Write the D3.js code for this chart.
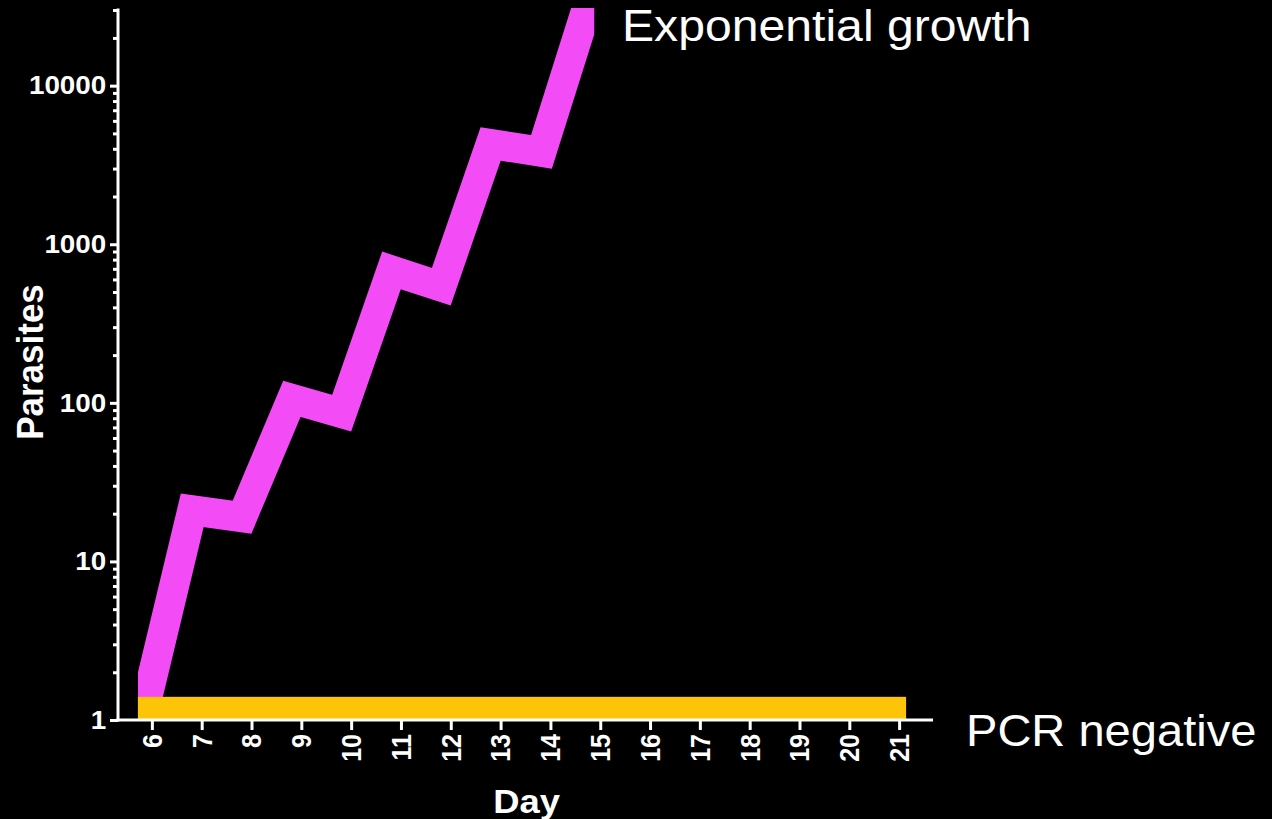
<!DOCTYPE html>
<html>
<head>
<meta charset="utf-8">
<script src="https://cdn.jsdelivr.net/npm/d3@7"></script>
<style>
  html, body { margin: 0; padding: 0; background: #000; }
  svg { display: block; }
  text { font-family: "Liberation Sans", Arial, sans-serif; fill: #fff; }
</style>
</head>
<body>
<svg id="chart" width="1272" height="819"></svg>
<script>
// ---- data ----
const growthDays   = [5.8, 6.81, 7.81, 8.81, 9.81, 10.81, 11.81, 12.8, 13.82, 14.81];
const growthValues = [1, 21, 19, 106, 86, 684, 540, 4290, 3820, 37000];
const growthShownDays = [5.72, 14.88];     // portion of the growth curve revealed
const pcrDays   = [5.72, 21.14];           // PCR negative band (days)
const pcrValues = [1, 1.4];                // PCR negative band (parasites)
const dayTicks  = [6, 7, 8, 9, 10, 11, 12, 13, 14, 15, 16, 17, 18, 19, 20, 21];
const yMajorTicks = [1, 10, 100, 1000, 10000];
const yMinorTicks = [2,3,4,5,6,7,8,9,20,30,40,50,60,70,80,90,200,300,400,500,600,700,800,900,
                     2000,3000,4000,5000,6000,7000,8000,9000,20000,30000];
const labels = { growth: "Exponential growth", pcr: "PCR negative", x: "Day", y: "Parasites" };

// ---- layout ----
const svg = d3.select("#chart");
const x = d3.scaleLinear().domain([5.32, 21.68]).range([118, 933]);
const y = d3.scaleLog().domain([1, 30000]).range([720, 10]);
const wide = 1.07;   // horizontal text stretch seen in the reference

const magenta = "rgb(243,76,246)";
const yellow  = "rgb(254,196,8)";

// clip for growth curve
svg.append("defs").append("clipPath").attr("id", "growthClip")
  .append("rect")
  .attr("x", x(growthShownDays[0]))
  .attr("y", y.range()[1] - 2)
  .attr("width", x(growthShownDays[1]) - x(growthShownDays[0]))
  .attr("height", y.range()[0] - y.range()[1] + 2);

const pts = growthDays.map((d, i) => [d, growthValues[i]]);
svg.append("path")
  .datum(pts)
  .attr("clip-path", "url(#growthClip)")
  .attr("fill", "none")
  .attr("stroke", magenta)
  .attr("stroke-width", 30)
  .attr("stroke-linejoin", "miter")
  .attr("stroke-miterlimit", 10)
  .attr("d", d3.line().x(d => x(d[0])).y(d => y(d[1])));

// PCR negative band
svg.append("rect")
  .attr("x", x(pcrDays[0]))
  .attr("y", y(pcrValues[1]))
  .attr("width", x(pcrDays[1]) - x(pcrDays[0]))
  .attr("height", y(pcrValues[0]) - y(pcrValues[1]))
  .attr("fill", yellow);

// ---- axes ----
const axisColor = "#fff";
const yAxisX = x.range()[0];
const xAxisY = y.range()[0];

// y axis major
const yAxis = svg.append("g").attr("transform", `translate(${yAxisX},0)`)
  .call(d3.axisLeft(y).tickValues(yMajorTicks).tickFormat(d3.format("d"))
        .tickSizeInner(8).tickSizeOuter(0).tickPadding(3));
yAxis.select(".domain").remove();
yAxis.selectAll(".tick line").attr("stroke", axisColor).attr("stroke-width", 3);
yAxis.selectAll(".tick text")
  .style("font-family", "'Liberation Sans', Arial, sans-serif")
  .style("font-weight", "bold").style("font-size", "26px").attr("fill", "#fff")
  .attr("transform", `scale(${wide},1)`);

// y axis minor
const yMinor = svg.append("g").attr("transform", `translate(${yAxisX},0)`)
  .call(d3.axisLeft(y).tickValues(yMinorTicks).tickFormat("").tickSizeInner(5).tickSizeOuter(0));
yMinor.select(".domain").remove();
yMinor.selectAll(".tick line").attr("stroke", axisColor).attr("stroke-width", 3);

// y axis line
svg.append("line")
  .attr("x1", yAxisX).attr("x2", yAxisX)
  .attr("y1", y.range()[1] - 1.5).attr("y2", xAxisY + 1.5)
  .attr("stroke", axisColor).attr("stroke-width", 3);

// x axis
const xAxis = svg.append("g").attr("transform", `translate(0,${xAxisY})`)
  .call(d3.axisBottom(x).tickValues(dayTicks).tickFormat(d3.format("d"))
        .tickSizeInner(10).tickSizeOuter(0).tickPadding(4));
xAxis.select(".domain").remove();
xAxis.selectAll(".tick line").attr("stroke", axisColor).attr("stroke-width", 3);
xAxis.selectAll(".tick text")
  .style("font-family", "'Liberation Sans', Arial, sans-serif")
  .style("font-weight", "bold").style("font-size", "25px").attr("fill", "#fff")
  .attr("transform", `scale(${wide},1) rotate(-90)`)
  .attr("text-anchor", "end")
  .attr("x", -14).attr("y", 0).attr("dy", "0.35em");

svg.append("line")
  .attr("x1", yAxisX - 1.5).attr("x2", x.range()[1])
  .attr("y1", xAxisY).attr("y2", xAxisY)
  .attr("stroke", axisColor).attr("stroke-width", 3);

// axis titles
svg.append("text")
  .attr("transform", `translate(${(x.range()[0] + x.range()[1]) / 2 + 1},813) scale(${wide},1)`)
  .attr("text-anchor", "middle")
  .style("font-weight", "bold").style("font-size", "34px")
  .text(labels.x);

svg.append("text")
  .attr("transform", `translate(43,${(y.range()[0] + y.range()[1]) / 2 - 3}) scale(${wide},1) rotate(-90)`)
  .attr("text-anchor", "middle")
  .style("font-weight", "bold").style("font-size", "35px")
  .text(labels.y);

// annotations
svg.append("text")
  .attr("transform", `translate(622,41) scale(${wide},1)`)
  .style("font-size", "45px")
  .text(labels.growth);

svg.append("text")
  .attr("transform", `translate(966,746) scale(${wide},1)`)
  .style("font-size", "44px")
  .text(labels.pcr);
</script>
</body>
</html>
